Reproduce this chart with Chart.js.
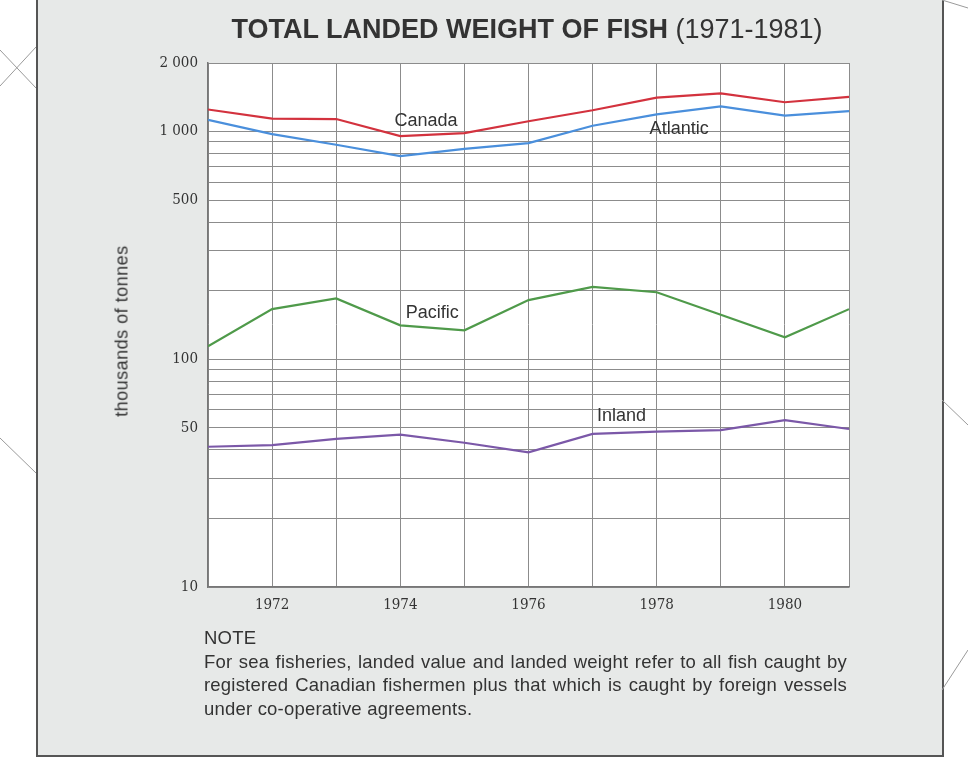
<!DOCTYPE html>
<html>
<head>
<meta charset="utf-8">
<script src="https://cdn.jsdelivr.net/npm/chart.js@4/dist/chart.umd.min.js"></script>
<style>
  html, body { margin: 0; padding: 0; background: #fff; }
  body { width: 968px; height: 759px; position: relative; overflow: hidden; font-family: 'Liberation Sans', Arial, sans-serif; }
  #panel { position: absolute; left: 36px; top: -4px; width: 904px; height: 757px; background: #e7e9e8; border: 2px solid #555; }
  #deco { position: absolute; left: 0; top: 0; }
  #chartBox { position: absolute; left: 0; top: 0; width: 968px; height: 759px; }
  #title { position: absolute; left: 0; width: 1054px; top: 14px; text-align: center; font-size: 27px; color: #333; white-space: nowrap; }
  #title b { font-weight: bold; }
  #ytitle { position: absolute; left: 122px; top: 331px; transform: translate(-50%, -50%) rotate(-90deg); font-size: 18px; color: #333; white-space: nowrap; letter-spacing: 0.5px; }
  #note { position: absolute; left: 204px; top: 626px; width: 643px; font-size: 18.5px; line-height: 23.5px; color: #333; letter-spacing: 0.2px; }
  #note .j { text-align: justify; text-align-last: justify; }
</style>
</head>
<body>
<div id="panel"></div>
<svg id="deco" width="968" height="759">
  <g stroke="#9a9a9a" stroke-width="1" fill="none">
    <line x1="0" y1="50" x2="36" y2="88"/>
    <line x1="0" y1="86" x2="36" y2="47"/>
    <line x1="0" y1="438" x2="36" y2="473"/>
    <line x1="942" y1="0" x2="968" y2="8"/>
    <line x1="942" y1="400" x2="968" y2="425"/>
    <line x1="942" y1="690" x2="968" y2="650"/>
  </g>
</svg>
<div id="chartBox"><canvas id="fishChart" width="968" height="759"></canvas></div>
<div id="title"><b>TOTAL LANDED WEIGHT OF FISH</b> (1971-1981)</div>
<div id="ytitle">thousands of tonnes</div>
<div id="note">
  <div>NOTE</div>
  <div class="j">For sea fisheries, landed value and landed weight refer to all fish caught by</div>
  <div class="j">registered Canadian fishermen plus that which is caught by foreign vessels</div>
  <div>under co-operative agreements.</div>
</div>
<script>
// years and landed weight, thousands of tonnes
const years = [1971, 1972, 1973, 1974, 1975, 1976, 1977, 1978, 1979, 1980, 1981];
const canada = [1250, 1140, 1135, 955, 985, 1110, 1240, 1410, 1470, 1345, 1420];
const atlantic = [1125, 975, 875, 780, 840, 890, 1060, 1190, 1290, 1175, 1230];
const pacific = [114, 166, 185, 141, 134, 182, 208, 197, 157, 125, 166];
const inland = [41.3, 42, 44.7, 46.7, 43, 39, 47, 48.1, 48.9, 54, 49.4];

// y grid lines and which of them get a label
const yGridValues = [10, 20, 30, 40, 50, 60, 70, 80, 90,
  100, 200, 300, 400, 500, 600, 700, 800, 900, 1000, 2000];
const yLabelValues = [10, 50, 100, 500, 1000, 2000];
const xLabelYears = [1972, 1974, 1976, 1978, 1980];

// series names written on the plot, placed in data units
const seriesLabels = [
  { text: 'Canada', year: 1974.4, value: 1110 },
  { text: 'Atlantic', year: 1978.35, value: 1025 },
  { text: 'Pacific', year: 1974.5, value: 160 },
  { text: 'Inland', year: 1977.45, value: 56.5 }
];

function toPoints(arr) {
  return arr.map((v, i) => ({ x: years[i], y: v }));
}

function fmtThousands(v) {
  return String(v).replace(/(\d)(\d{3})$/, '$1 $2');
}

const plotBackground = {
  id: 'plotBackground',
  beforeDraw(chart) {
    const a = chart.chartArea;
    const ctx = chart.ctx;
    ctx.save();
    ctx.fillStyle = '#ffffff';
    ctx.fillRect(a.left, a.top, a.right - a.left, a.bottom - a.top);
    ctx.restore();
  }
};

const lineNames = {
  id: 'lineNames',
  afterDatasetsDraw(chart) {
    const ctx = chart.ctx;
    const xs = chart.scales.x, ys = chart.scales.y;
    ctx.save();
    ctx.font = '18px "Liberation Sans", Arial, sans-serif';
    ctx.fillStyle = '#333';
    ctx.textAlign = 'center';
    ctx.textBaseline = 'middle';
    seriesLabels.forEach(l => {
      ctx.fillText(l.text, xs.getPixelForValue(l.year), ys.getPixelForValue(l.value));
    });
    ctx.restore();
  }
};

const ctx1 = document.getElementById('fishChart').getContext('2d');
const fishChart = new Chart(ctx1, {
  type: 'line',
  data: {
    datasets: [
      { label: 'Canada', data: toPoints(canada), borderColor: '#d3323e' },
      { label: 'Atlantic', data: toPoints(atlantic), borderColor: '#4a8fdc' },
      { label: 'Pacific', data: toPoints(pacific), borderColor: '#4f9a4a' },
      { label: 'Inland', data: toPoints(inland), borderColor: '#7b58a8' }
    ]
  },
  options: {
    responsive: false,
    animation: false,
    datasets: {
      line: { borderWidth: 2.2, pointRadius: 0, tension: 0, fill: false }
    },
    layout: { padding: { left: 0, right: 119, top: 63, bottom: 132 } },
    plugins: {
      legend: { display: false },
      tooltip: { enabled: false }
    },
    scales: {
      x: {
        type: 'linear',
        min: 1971,
        max: 1981,
        afterBuildTicks: (scale) => { scale.ticks = years.map(y => ({ value: y })); },
        afterFit: (scale) => { scale.height = 40; },
        grid: { color: '#8c8c8c', lineWidth: 1, drawTicks: false },
        border: { color: '#777', width: 1.5 },
        ticks: {
          autoSkip: false,
          maxRotation: 0,
          padding: 9,
          color: '#333',
          font: { family: "'DejaVu Serif Condensed', 'Liberation Serif', serif", size: 15 },
          callback: (v) => xLabelYears.includes(v) ? String(v) : ''
        }
      },
      y: {
        type: 'logarithmic',
        min: 10,
        max: 2000,
        afterBuildTicks: (scale) => { scale.ticks = yGridValues.map(v => ({ value: v })); },
        afterFit: (scale) => { scale.width = 208; },
        grid: { color: '#8c8c8c', lineWidth: 1, drawTicks: false },
        border: { color: '#777', width: 1.5 },
        ticks: {
          autoSkip: false,
          padding: 10,
          color: '#333',
          font: { family: "'DejaVu Serif Condensed', 'Liberation Serif', serif", size: 15 },
          callback: (v) => yLabelValues.includes(v) ? fmtThousands(v) : ''
        }
      }
    }
  },
  plugins: [plotBackground, lineNames]
});
</script>
</body>
</html>
